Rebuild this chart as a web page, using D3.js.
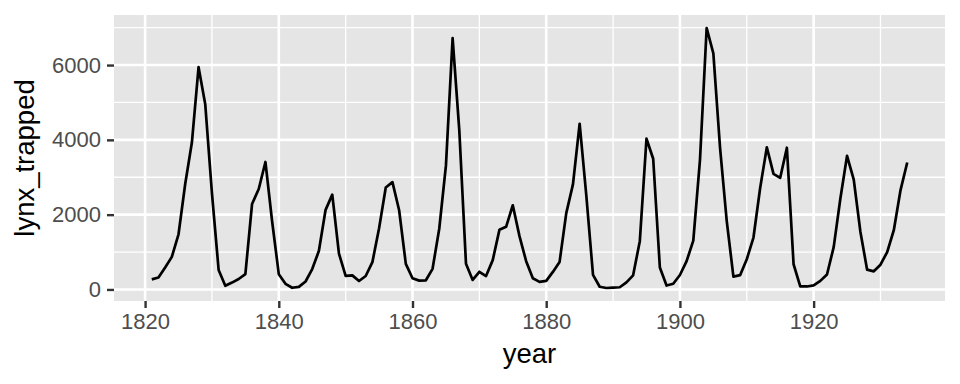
<!DOCTYPE html>
<html>
<head>
<meta charset="utf-8">
<script src="https://cdn.jsdelivr.net/npm/d3@7"></script>
<style>
  body { margin: 0; background: #fff; }
  text { font-family: "Liberation Sans", Arial, sans-serif; }
</style>
</head>
<body>
<script>
// lynx trappings per year
var years = d3.range(1821, 1935);
var lynx_trapped = [269, 321, 585, 871, 1475, 2821, 3928, 5943, 4950, 2577,
  523, 98, 184, 279, 409, 2285, 2685, 3409, 1824, 409,
  151, 45, 68, 213, 546, 1033, 2129, 2536, 957, 361,
  377, 225, 360, 731, 1638, 2725, 2871, 2119, 684, 299,
  236, 245, 552, 1623, 3311, 6721, 4254, 687, 255, 473,
  358, 784, 1594, 1676, 2251, 1426, 756, 299, 201, 229,
  469, 736, 2042, 2811, 4431, 2511, 389, 73, 39, 49,
  59, 188, 377, 1292, 4031, 3495, 587, 105, 153, 387,
  758, 1307, 3465, 6991, 6313, 3794, 1836, 345, 382, 808,
  1388, 2713, 3800, 3091, 2985, 3790, 674, 81, 80, 108,
  229, 399, 1132, 2432, 3574, 2935, 1537, 529, 485, 662,
  1000, 1590, 2657, 3396];
var xTicks = [1820, 1840, 1860, 1880, 1900, 1920];
var yTicks = [0, 2000, 4000, 6000];
var xMinor = [1830, 1850, 1870, 1890, 1910, 1930];
var yMinor = [1000, 3000, 5000, 7000];

var width = 960, height = 384;
var pLeft = 114, pRight = 945, pTop = 15, pBottom = 301;

var data = years.map(function(y, i) { return {year: y, value: lynx_trapped[i]}; });

// ggplot style 5% expansion
function expand(ext) {
  var d = (ext[1] - ext[0]) * 0.05;
  return [ext[0] - d, ext[1] + d];
}

var x = d3.scaleLinear().domain(expand(d3.extent(years))).range([pLeft, pRight]);
var y = d3.scaleLinear().domain(expand(d3.extent(lynx_trapped))).range([pBottom, pTop]);

var svg = d3.select("body").append("svg")
    .attr("width", width)
    .attr("height", height);

svg.append("rect")
    .attr("x", pLeft).attr("y", pTop)
    .attr("width", pRight - pLeft).attr("height", pBottom - pTop)
    .attr("fill", "#E5E5E5");

// minor grid
svg.append("g").selectAll("line").data(xMinor).enter().append("line")
    .attr("x1", d => x(d)).attr("x2", d => x(d))
    .attr("y1", pTop).attr("y2", pBottom)
    .attr("stroke", "#fff").attr("stroke-width", 1.3);
svg.append("g").selectAll("line").data(yMinor).enter().append("line")
    .attr("x1", pLeft).attr("x2", pRight)
    .attr("y1", d => y(d)).attr("y2", d => y(d))
    .attr("stroke", "#fff").attr("stroke-width", 1.3);

// major grid
svg.append("g").selectAll("line").data(xTicks).enter().append("line")
    .attr("x1", d => x(d)).attr("x2", d => x(d))
    .attr("y1", pTop).attr("y2", pBottom)
    .attr("stroke", "#fff").attr("stroke-width", 2.6);
svg.append("g").selectAll("line").data(yTicks).enter().append("line")
    .attr("x1", pLeft).attr("x2", pRight)
    .attr("y1", d => y(d)).attr("y2", d => y(d))
    .attr("stroke", "#fff").attr("stroke-width", 2.6);

var line = d3.line()
    .x(d => x(d.year))
    .y(d => y(d.value));

svg.append("path")
    .datum(data)
    .attr("d", line)
    .attr("fill", "none")
    .attr("stroke", "#000")
    .attr("stroke-width", 2.7)
    .attr("stroke-linejoin", "round");

// axes
var xAxis = svg.append("g")
    .attr("transform", "translate(0," + pBottom + ")")
    .call(d3.axisBottom(x).tickValues(xTicks).tickFormat(d3.format("d")).tickSize(7).tickPadding(5));
var yAxis = svg.append("g")
    .attr("transform", "translate(" + pLeft + ",0)")
    .call(d3.axisLeft(y).tickValues(yTicks).tickFormat(d3.format("d")).tickSize(7).tickPadding(6));

[xAxis, yAxis].forEach(function(a) {
  a.select(".domain").remove();
  a.selectAll(".tick line").attr("stroke", "#333333").attr("stroke-width", 2.4);
  a.selectAll(".tick text")
    .attr("fill", "#4D4D4D")
    .style("font-size", "22px")
    .style("font-family", "'Liberation Sans', Arial, sans-serif");
});

svg.append("text")
    .attr("x", (pLeft + pRight) / 2)
    .attr("y", 363)
    .attr("text-anchor", "middle")
    .style("font-size", "27.5px")
    .attr("fill", "#000")
    .text("year");

svg.append("text")
    .attr("transform", "translate(34," + ((pTop + pBottom) / 2) + ") rotate(-90)")
    .attr("text-anchor", "middle")
    .style("font-size", "27.5px")
    .attr("fill", "#000")
    .text("lynx_trapped");
</script>
</body>
</html>
